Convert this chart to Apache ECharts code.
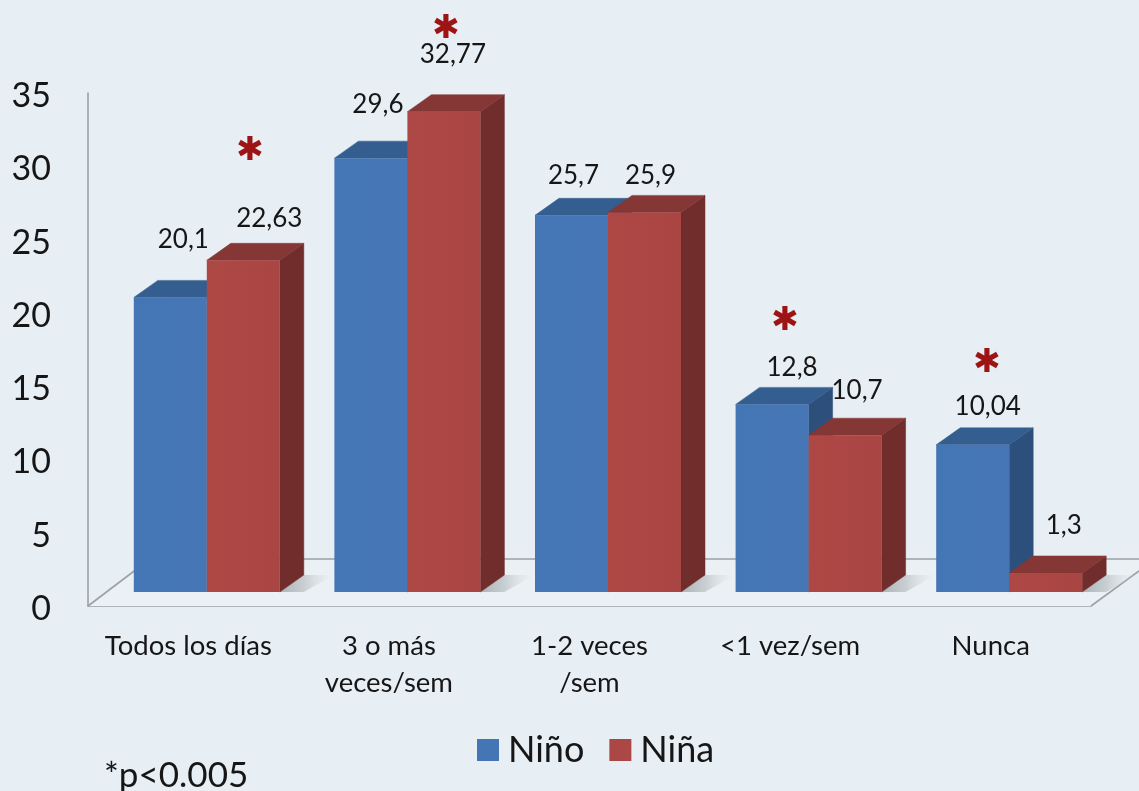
<!DOCTYPE html>
<html><head><meta charset="utf-8">
<style>html,body{margin:0;padding:0;background:#e7eef4}#main{width:1139px;height:791px;filter:blur(0.7px)}</style>
<script src="https://cdn.jsdelivr.net/npm/echarts@6/dist/echarts.min.js"></script>
</head><body><div id="main"></div>
<script>
const categories = ['Todos los días', '3 o más\nveces/sem', '1-2 veces\n/sem', '<1 vez/sem', 'Nunca'];
const ninoValues = [20.1, 29.6, 25.7, 12.8, 10.04];
const ninaValues = [22.63, 32.77, 25.9, 10.7, 1.3];
const yTicks = { min: 0, max: 35, interval: 5 };

// Label nudges relative to each bar's front-top centre (layout only, not data)
const ninoLabelNudge = [[13, -58], [7, -54], [2, -40], [20, -37], [15, -38]];
const ninaLabelNudge = [[26, -42], [9, -57], [6, -37], [12, -45], [18, -47]];

const FONT = 'Lato';
const DX = 24, DY = -17;         // bar depth projection
const SHIFT_X = 18.5, SHIFT_Y = -14; // bars stand inside the floor
const BAR_W = 73;

function barRenderer(colors, side, nudges, isLast) {
  return function (params, api) {
    const i = api.value(0), v = api.value(1);
    const p = api.coord([i, v]), base = api.coord([i, 0]);
    const cx = p[0] + SHIFT_X;
    const x0 = side < 0 ? cx - BAR_W : cx, x1 = x0 + BAR_W;
    const yt = p[1] + SHIFT_Y, yb = base[1] + SHIFT_Y;
    const children = [];
    if (isLast) {
      children.push({ type: 'polygon', silent: true,
        shape: { points: [[x1, yb], [x1 + DX, yb + DY], [x1 + DX + 30, yb + DY], [x1 + 24, yb]] },
        style: { fill: new echarts.graphic.LinearGradient(0, 0, 1, 0, [
          { offset: 0, color: 'rgba(165,172,176,0.9)' }, { offset: 0.45, color: 'rgba(185,192,196,0.7)' }, { offset: 1, color: 'rgba(215,222,226,0)' }]) } });
    }
    children.push(
      { type: 'polygon', shape: { points: [[x1, yt], [x1 + DX, yt + DY], [x1 + DX, yb + DY], [x1, yb]] }, style: { fill: colors.side, stroke: colors.side, lineWidth: 0.5 } },
      { type: 'polygon', shape: { points: [[x0, yt], [x0 + DX, yt + DY], [x1 + DX, yt + DY], [x1, yt]] }, style: { fill: colors.top, stroke: colors.top, lineWidth: 0.5 } },
      { type: 'rect', shape: { x: x0, y: yt, width: BAR_W, height: yb - yt },
        style: { fill: new echarts.graphic.LinearGradient(0, 0, 1, 0, [
          { offset: 0, color: colors.front0 }, { offset: 1, color: colors.front1 }]) } },
      { type: 'text', style: { x: (x0 + x1) / 2 + nudges[i][0], y: yt + nudges[i][1],
          text: String(v).replace('.', ','), font: '26px ' + FONT, fill: '#161616',
          align: 'center', verticalAlign: 'middle' } }
    );
    return { type: 'group', children };
  };
}

function floorRenderer(params, api) {
  const band = api.size([1, 0])[0];
  const o = api.coord([0, 0]);
  const left = o[0] - band / 2;
  const right = left + band * categories.length;
  const y = o[1], backY = y - 47, line = { stroke: '#9ba1a5', lineWidth: 1.6 };
  return { type: 'group', silent: true, children: [
    { type: 'polygon', shape: { points: [[left, y], [left + 62, backY], [1139, backY], [1139, y - 35], [right, y]] },
      style: { fill: '#ebf0f4' } },
    { type: 'line', shape: { x1: left, y1: y, x2: left + 62, y2: backY }, style: line },
    { type: 'line', shape: { x1: left + 62, y1: backY, x2: 1139, y2: backY }, style: line },
    { type: 'line', shape: { x1: right, y1: y, x2: 1139, y2: y - 35 }, style: line }
  ] };
}

const chart = echarts.init(document.getElementById('main'));
chart.setOption({
  animation: false,
  backgroundColor: '#e7eef4',
  textStyle: { fontFamily: FONT },
  grid: { left: 88, top: 93, width: 1003, height: 513, containLabel: false },
  legend: {
    data: ['Niño', 'Niña'], left: 472, top: 727, icon: 'rect', itemWidth: 22, itemHeight: 22, itemGap: 25,
    textStyle: { fontFamily: FONT, fontSize: 36, color: '#161616', padding: [0, 0, 0, 4] }
  },
  xAxis: {
    type: 'category', data: categories,
    axisLine: { show: true, lineStyle: { color: '#9ba1a5', width: 1.6 } }, axisTick: { show: false },
    axisLabel: { fontFamily: FONT, fontSize: 27.5, color: '#161616', margin: 22, lineHeight: 37, interval: 0 }
  },
  yAxis: {
    type: 'value', min: yTicks.min, max: yTicks.max, interval: yTicks.interval,
    axisLine: { show: true, lineStyle: { color: '#9ba1a5', width: 1.6 } }, axisTick: { show: false },
    splitLine: { show: false },
    axisLabel: { fontFamily: FONT, fontSize: 34, color: '#161616', margin: 37, verticalAlign: 'top', lineHeight: 6 }
  },
  series: [
    { type: 'custom', name: 'Piso', z: 1, clip: false, data: [[0]], renderItem: floorRenderer, silent: true },
    { type: 'custom', name: 'Niño', z: 2, clip: false, itemStyle: { color: '#4475b4' },
      data: ninoValues.map((v, i) => [i, v]),
      renderItem: barRenderer({ front0: '#4475b4', front1: '#4676b6', side: '#2d4f7b', top: '#345e8f' }, -1, ninoLabelNudge, false) },
    { type: 'custom', name: 'Niña', z: 3, clip: false, itemStyle: { color: '#ab4744' },
      data: ninaValues.map((v, i) => [i, v]),
      renderItem: barRenderer({ front0: '#ad4845', front1: '#a94543', side: '#702d2c', top: '#843735' }, 1, ninaLabelNudge, true) }
  ],
  graphic: [
    ...[[250, 151], [446, 29], [785, 321], [987, 363]].map(p => ({
      type: 'text', z: 10, x: p[0], y: p[1],
      style: { text: '\u2731', font: 'bold 33px "DejaVu Sans"', fill: '#9c1414', align: 'center', verticalAlign: 'middle' }
    })),
    { type: 'text', z: 10, x: 104, y: 776, style: { text: '*p<0.005', font: '35px ' + FONT, fill: '#161616', verticalAlign: 'middle' } }
  ]
});
</script></body></html>
